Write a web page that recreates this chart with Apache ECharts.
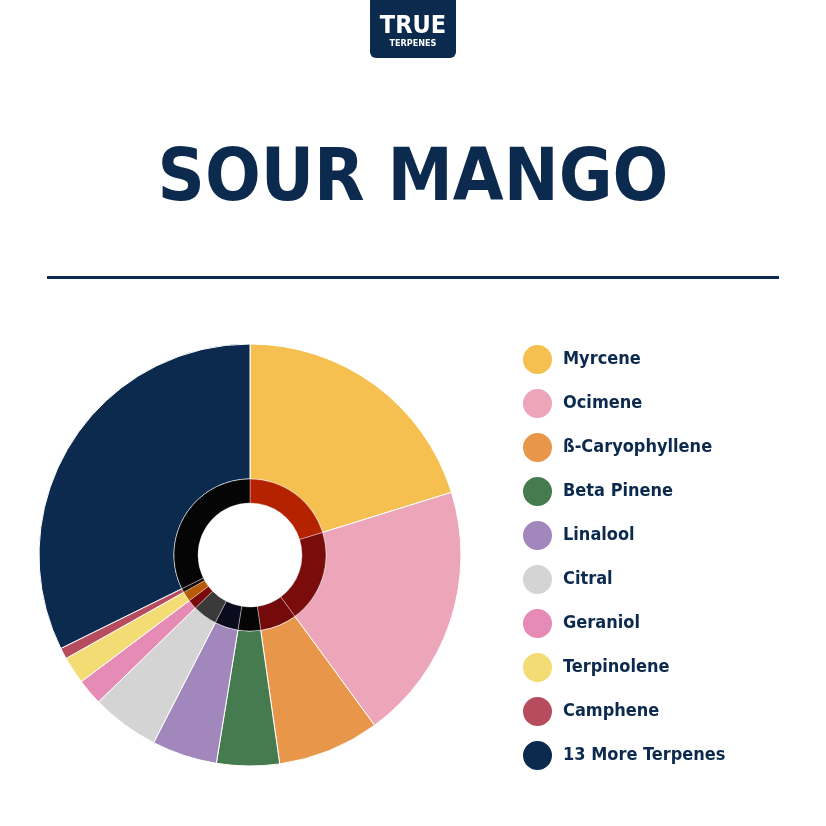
<!DOCTYPE html>
<html><head><meta charset="utf-8">
<script src="https://cdn.jsdelivr.net/npm/echarts@6/dist/echarts.min.js"></script>
<style>html,body{margin:0;padding:0;background:#fff}#c{width:826px;height:826px}</style>
</head><body><div id="c"></div>
<script>
const categories = ['Myrcene','Ocimene','ß-Caryophyllene','Beta Pinene','Linalool','Citral','Geraniol','Terpinolene','Camphene','13 More Terpenes'];
const values = [20.2, 19.75, 7.8, 4.8, 5.0, 5.2, 2.0, 2.1, 0.85, 32.3];
const colors = ['#f5c04f','#eda6b9','#e8974a','#467a4f','#a287bd','#d4d4d4','#e58bb6','#f3dc74','#b74c5e','#0b2a4e'];
const innerColors = ['#b52200','#7a0c0c','#740a0a','#050505','#0b0b1e','#3a3a3a','#7a0a0a','#b85a06','#150808','#050505'];
const title = 'SOUR MANGO';

const navy = '#0b2a4e';
const chart = echarts.init(document.getElementById('c'), null, {renderer:'canvas'});
const condensed = '"DejaVu Sans Condensed","Liberation Sans Narrow","DejaVu Sans",sans-serif';
chart.setOption({
  animation:false,
  backgroundColor:'#fff',
  color: colors,
  legend:{
    orient:'vertical', left:516, top:338, itemWidth:31, itemHeight:31, itemGap:11,
    icon:'circle', data:categories, selectedMode:false,
    textStyle:{color:navy, fontSize:18, fontWeight:'bold', fontFamily:condensed, padding:[0,0,0,5], lineHeight:20}
  },
  graphic:[
    {type:'rect', shape:{x:370,y:-10,width:86,height:68,r:6}, style:{fill:navy}},
    {type:'text', style:{text:'TRUE', x:413, y:26, fill:'#fff', font:'bold 25px '+condensed, textAlign:'center', textVerticalAlign:'middle'}},
    {type:'text', style:{text:'TERPENES', x:413, y:44, fill:'#fff', font:'bold 9px '+condensed, textAlign:'center', textVerticalAlign:'middle'}},
    {type:'text', style:{text:title, x:413, y:181, fill:navy, font:'bold 73px '+condensed, textAlign:'center', textVerticalAlign:'middle'}},
    {type:'rect', shape:{x:47,y:276,width:732,height:3}, style:{fill:navy}}
  ],
  series:[
    {type:'pie', center:[250,555], radius:[76,211], startAngle:90, clockwise:true,
     label:{show:false}, labelLine:{show:false}, emphasis:{disabled:true}, silent:true,
     itemStyle:{borderColor:'#fff', borderWidth:1},
     data: categories.map((n,i)=>({name:n, value:values[i], itemStyle:{color:colors[i]}}))},
    {type:'pie', center:[250,555], radius:[52,76], startAngle:90, clockwise:true,
     label:{show:false}, labelLine:{show:false}, emphasis:{disabled:true}, silent:true,
     itemStyle:{borderColor:'rgba(255,255,255,0.6)', borderWidth:0.6},
     data: categories.map((n,i)=>({name:'inner '+n, value:values[i], itemStyle:{color:innerColors[i]}}))}
  ]
});
</script></body></html>
